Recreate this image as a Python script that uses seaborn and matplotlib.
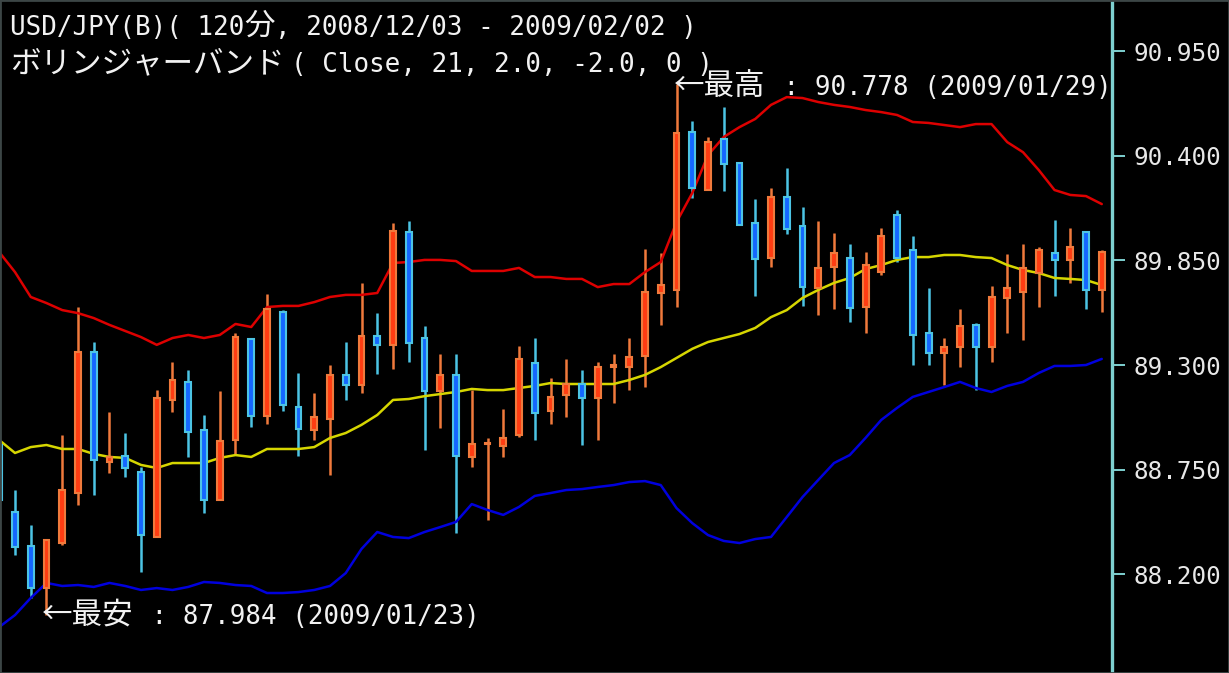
import numpy as np
import pandas as pd
import matplotlib
matplotlib.use("Agg")
import matplotlib.pyplot as plt
from matplotlib.patches import Rectangle
import seaborn as sns

# ---------------- data ----------------
open_ = [88.879, 88.526, 88.347, 88.126, 88.363, 88.626, 89.368, 88.790, 88.821, 88.737,
         88.395, 89.116, 89.211, 88.958, 88.590, 88.905, 89.437, 89.032, 89.579, 89.079,
         88.958, 89.016, 89.247, 89.195, 89.453, 89.405, 90.000, 89.442, 89.163, 89.247,
         88.816, 88.884, 88.874, 88.932, 89.311, 89.058, 89.142, 89.200, 89.126, 89.289,
         89.289, 89.347, 89.679, 89.695, 90.526, 90.221, 90.489, 90.363, 90.047, 89.863,
         90.184, 90.032, 89.705, 89.816, 89.863, 89.605, 89.790, 90.089, 89.905, 89.468,
         89.363, 89.395, 89.511, 89.395, 89.653, 89.684, 89.784, 89.890, 89.853, 90.000,
         89.695]
high = [88.942, 88.642, 88.458, 88.379, 88.932, 89.605, 89.421, 89.053, 88.942, 88.763,
        89.168, 89.316, 89.274, 89.037, 89.163, 89.469, 89.442, 89.674, 89.589, 89.258,
        89.153, 89.300, 89.421, 89.732, 89.574, 90.047, 90.058, 89.505, 89.358, 89.358,
        89.168, 88.916, 89.069, 89.400, 89.442, 89.232, 89.332, 89.274, 89.316, 89.358,
        89.442, 89.911, 89.889, 90.778, 90.584, 90.500, 90.658, 90.363, 90.174, 90.232,
        90.337, 90.132, 90.058, 89.995, 89.937, 89.895, 90.021, 90.116, 89.979, 89.705,
        89.442, 89.595, 89.521, 89.716, 89.884, 89.937, 89.921, 90.063, 90.021, 90.005,
        89.905]
low = [88.521, 88.300, 88.074, 87.984, 88.353, 88.563, 88.616, 88.732, 88.711, 88.211,
       88.395, 89.053, 88.816, 88.521, 88.590, 88.826, 88.974, 88.990, 89.058, 88.821,
       88.905, 88.721, 89.116, 89.153, 89.253, 89.279, 89.316, 88.853, 88.969, 88.416,
       88.763, 88.484, 88.816, 88.921, 88.905, 88.990, 89.026, 88.879, 88.905, 89.100,
       89.168, 89.184, 89.511, 89.605, 90.179, 90.221, 90.216, 90.037, 89.663, 89.816,
       89.989, 89.611, 89.563, 89.595, 89.526, 89.469, 89.774, 89.842, 89.300, 89.300,
       89.195, 89.289, 89.168, 89.316, 89.468, 89.432, 89.605, 89.663, 89.732, 89.595,
       89.579]
close = [88.590, 88.342, 88.126, 88.379, 88.642, 89.368, 88.800, 88.816, 88.758, 88.405,
         89.126, 89.221, 88.947, 88.590, 88.900, 89.447, 89.032, 89.595, 89.090, 88.963,
         89.026, 89.247, 89.195, 89.453, 89.405, 90.005, 89.416, 89.163, 89.247, 88.821,
         88.884, 88.890, 88.916, 89.332, 89.047, 89.132, 89.200, 89.126, 89.289, 89.300,
         89.342, 89.684, 89.721, 90.521, 90.232, 90.474, 90.358, 90.037, 89.858, 90.184,
         90.016, 89.711, 89.811, 89.890, 89.600, 89.826, 89.979, 89.863, 89.458, 89.363,
         89.395, 89.505, 89.395, 89.658, 89.705, 89.811, 89.905, 89.853, 89.921, 89.695,
         89.895]
upper = [89.894, 89.789, 89.658, 89.626, 89.589, 89.573, 89.547, 89.511, 89.479, 89.447,
         89.406, 89.442, 89.458, 89.442, 89.458, 89.516, 89.500, 89.605, 89.611, 89.611,
         89.631, 89.658, 89.669, 89.669, 89.679, 89.837, 89.842, 89.853, 89.853, 89.847,
         89.795, 89.795, 89.795, 89.811, 89.763, 89.763, 89.753, 89.753, 89.710, 89.726,
         89.726, 89.789, 89.842, 90.052, 90.205, 90.405, 90.500, 90.552, 90.595, 90.669,
         90.710, 90.705, 90.684, 90.669, 90.658, 90.642, 90.631, 90.616, 90.579, 90.574,
         90.563, 90.552, 90.568, 90.568, 90.473, 90.420, 90.326, 90.221, 90.195, 90.189,
         90.147]
middle = [88.905, 88.837, 88.868, 88.879, 88.858, 88.858, 88.832, 88.816, 88.811, 88.774,
          88.758, 88.784, 88.784, 88.784, 88.811, 88.826, 88.816, 88.858, 88.858, 88.858,
          88.868, 88.916, 88.942, 88.985, 89.037, 89.116, 89.121, 89.136, 89.147, 89.158,
          89.174, 89.168, 89.168, 89.179, 89.190, 89.205, 89.200, 89.200, 89.200, 89.200,
          89.221, 89.248, 89.289, 89.337, 89.385, 89.421, 89.442, 89.463, 89.495, 89.552,
          89.589, 89.653, 89.695, 89.732, 89.758, 89.805, 89.826, 89.853, 89.868, 89.868,
          89.879, 89.879, 89.868, 89.863, 89.826, 89.800, 89.784, 89.758, 89.753, 89.747,
          89.721]
lower = [87.921, 87.984, 88.074, 88.153, 88.137, 88.142, 88.132, 88.153, 88.137, 88.116,
         88.126, 88.116, 88.132, 88.158, 88.153, 88.142, 88.137, 88.100, 88.100, 88.105,
         88.116, 88.137, 88.205, 88.332, 88.421, 88.395, 88.389, 88.421, 88.447, 88.474,
         88.568, 88.537, 88.511, 88.553, 88.611, 88.626, 88.642, 88.647, 88.658, 88.668,
         88.684, 88.689, 88.668, 88.547, 88.468, 88.405, 88.374, 88.363, 88.384, 88.395,
         88.500, 88.605, 88.695, 88.784, 88.826, 88.916, 89.011, 89.074, 89.132, 89.158,
         89.184, 89.211, 89.179, 89.158, 89.190, 89.211, 89.258, 89.295, 89.295, 89.300,
         89.332]
tick_values = [88.200, 88.750, 89.300, 89.850, 90.400, 90.950]
tick_labels = ["88.200", "88.750", "89.300", "89.850", "90.400", "90.950"]
title_line1 = ["USD/JPY(B)( 120", "分", ", 2008/12/03 - 2009/02/02 )"]
title_line2 = ["ボリンジャーバンド", "( Close, 21, 2.0, -2.0, 0 )"]
high_note = ["←最高", " : 90.778 (2009/01/29)"]
low_note = ["←最安", " : 87.984 (2009/01/23)"]

# ---------------- style ----------------
sns.set_theme(style="dark", rc={"axes.facecolor": "black", "figure.facecolor": "black"})
plt.rcParams["font.family"] = ["DejaVu Sans Mono", "Noto Sans CJK JP"]

W, H = 1229, 673
fig = plt.figure(figsize=(W / 100, H / 100), dpi=100)
ax = fig.add_axes([0, 0, 1112 / W, 1])
ax.set_facecolor("black")

O = np.array(open_); Hh = np.array(high); L = np.array(low); C = np.array(close)
idx = np.arange(len(O))
up = C >= O
UP_FILL, UP_EDGE = "#FF3C12", "#F07A3C"
DN_FILL, DN_EDGE = "#1466FF", "#4CC4E4"
wick_cols = [UP_EDGE if u else DN_EDGE for u in up]
fills = [UP_FILL if u else DN_FILL for u in up]
edges = [UP_EDGE if u else DN_EDGE for u in up]

# wicks
ax.vlines(idx, L, Hh, colors=wick_cols, linewidth=1.8, zorder=2)

# bands via seaborn
bands = pd.DataFrame({
    "idx": np.tile(idx, 3),
    "price": np.concatenate([upper, middle, lower]),
    "band": ["upper"] * len(idx) + ["middle"] * len(idx) + ["lower"] * len(idx),
})
sns.lineplot(data=bands, x="idx", y="price", hue="band",
             palette={"upper": "#DD0000", "middle": "#D6D600", "lower": "#0000DD"},
             legend=False, linewidth=1.8, estimator=None, sort=False, zorder=3, ax=ax)

# bodies
ax.bar(idx, np.maximum(np.abs(C - O), 0.006), bottom=np.minimum(O, C), width=0.38,
       color=fills, edgecolor=edges, linewidth=1.5, zorder=4)

ax.set_xlim(0.048, 70.65)
ax.set_ylim(87.679, 91.221)
ax.set_xlabel(""); ax.set_ylabel("")
ax.grid(False)
ax.yaxis.tick_right()
ax.set_yticks(tick_values)
ax.set_yticklabels(tick_labels)
CYAN = "#7ED0D0"
ax.tick_params(axis="y", which="major", right=True, left=False, length=9.4, width=1.4,
               color=CYAN, pad=5.8, labelsize=17.5, labelcolor="#E8E8E8", direction="out")
ax.tick_params(axis="x", bottom=False, labelbottom=False)
for s in ["left", "top", "bottom"]:
    ax.spines[s].set_visible(False)
ax.spines["right"].set_visible(True)
ax.spines["right"].set_color(CYAN)
ax.spines["right"].set_linewidth(2.4)

# ---------------- texts ----------------
TXT = "#F2F2F2"
COL = 15.6  # width of one half-width character in pixels


def put(x_px, y_px, s, cjk=False):
    if cjk:
        fig.text(x_px / W, 1 - y_px / H, s, ha="left", va="baseline", color=TXT,
                 fontsize=22, family=["Noto Sans CJK JP", "DejaVu Sans"])
    else:
        fig.text(x_px / W, 1 - y_px / H, s, ha="left", va="baseline", color=TXT,
                 fontsize=18.6, family=["DejaVu Sans Mono", "Noto Sans CJK JP"])


put(10, 35, title_line1[0])
put(10 + 15 * COL, 35, title_line1[1], cjk=True)
put(10 + 17 * COL, 35, title_line1[2])
put(10, 72, title_line2[0], cjk=True)
put(10 + 18 * COL, 72, title_line2[1])
put(674, 95, high_note[0], cjk=True)
put(674 + 6 * COL, 95, high_note[1])
put(42, 624, low_note[0], cjk=True)
put(42 + 6 * COL, 624, low_note[1])

fig.patches.append(Rectangle((0, 0), 1, 1, transform=fig.transFigure, fill=False,
                             edgecolor="#3C4646", linewidth=2))

fig.savefig("out.png", dpi=100, facecolor="black")
